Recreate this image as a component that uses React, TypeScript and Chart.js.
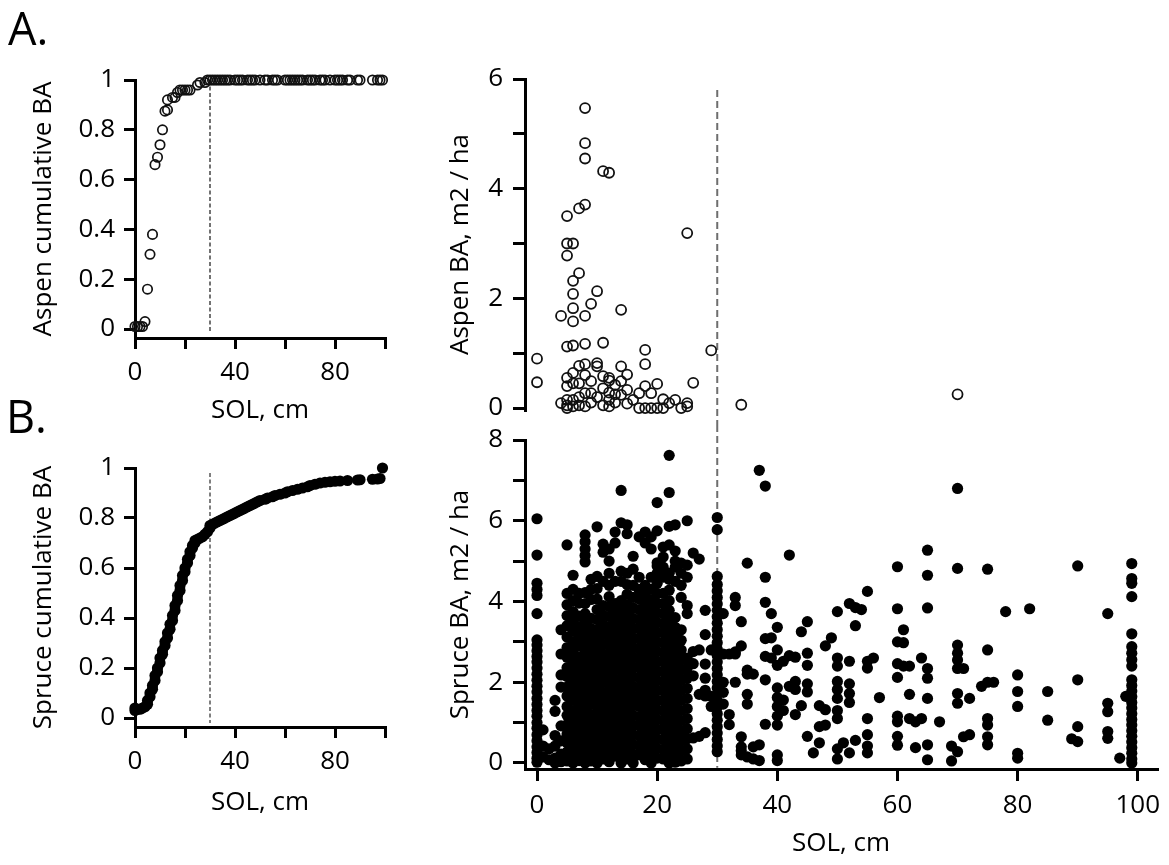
import React, { useEffect, useRef } from 'react';
import { Chart, registerables } from 'chart.js';

Chart.register(...registerables);

const FONT = '"Open Sans", "DejaVu Sans", sans-serif';

// ---------- DATA ----------
const threshold = 30; // SOL, cm (dashed reference line)

const cumTicks = [0, 0.2, 0.4, 0.6, 0.8, 1];
const solTicks = [0, 20, 40, 60, 80, 100];
const solLabelsSmall = [0, 40, 80];
const solLabelsLarge = [0, 20, 40, 60, 80, 100];
const aspenBATicks = [0, 1, 2, 3, 4, 5, 6];
const aspenBALabels = [0, 2, 4, 6];
const spruceBATicks = [0, 1, 2, 3, 4, 5, 6, 7, 8];
const spruceBALabels = [0, 2, 4, 6, 8];

// Panel A: aspen cumulative BA vs SOL  [SOL, cumulative]
const aspenCumulative: [number, number][] = [
  [0, 0.01], [1, 0.01], [2, 0.01], [3, 0.01], [4, 0.03], [5, 0.16], [6, 0.3], [7, 0.38],
  [8, 0.66], [9, 0.69], [10, 0.74], [11, 0.8], [12, 0.875], [13, 0.88], [13, 0.92],
  [15, 0.93], [16, 0.93], [17, 0.95], [18, 0.96], [19, 0.96], [20, 0.96], [21, 0.96],
  [22, 0.96], [25, 0.98], [26, 0.99], [28, 0.99],
  [29, 1], [30, 1], [31, 1], [32, 1], [33, 1], [34, 1], [35, 1], [36, 1], [37, 1], [38, 1],
  [40, 1], [41, 1], [42, 1], [43, 1], [45, 1], [46, 1], [47, 1], [48, 1], [50, 1], [52, 1],
  [53, 1], [55, 1], [56, 1], [57, 1], [60, 1], [61, 1], [62, 1], [63, 1], [64, 1], [65, 1],
  [66, 1], [67, 1], [69, 1], [70, 1], [71, 1], [72, 1], [74, 1], [75, 1], [76, 1], [78, 1],
  [80, 1], [81, 1], [82, 1], [83, 1], [85, 1], [86, 1], [89, 1], [90, 1], [95, 1], [97, 1],
  [98, 1], [99, 1],
];

// Panel B: spruce cumulative BA vs SOL  [SOL, cumulative]
const spruceCumulative: [number, number][] = [
  [0, 0.03], [0, 0.04], [1, 0.035], [2, 0.035], [3, 0.04], [4, 0.045], [5, 0.055], [5, 0.07],
  [6, 0.085], [6, 0.1], [7, 0.115], [7, 0.13], [8, 0.15], [8, 0.17], [9, 0.185], [9, 0.2],
  [10, 0.22], [10, 0.24], [11, 0.255], [11, 0.27], [12, 0.29], [12, 0.305], [13, 0.32],
  [13, 0.34], [14, 0.355], [14, 0.375], [15, 0.39], [15, 0.41], [16, 0.43], [16, 0.45],
  [17, 0.47], [17, 0.49], [18, 0.51], [18, 0.53], [19, 0.55], [19, 0.57], [20, 0.585],
  [20, 0.6], [21, 0.62], [21, 0.635], [22, 0.65], [22, 0.665], [23, 0.68], [23, 0.69],
  [24, 0.7], [24, 0.71], [25, 0.715], [26, 0.72], [27, 0.725], [28, 0.735], [29, 0.745],
  [30, 0.76], [30, 0.77], [31, 0.775], [32, 0.78], [33, 0.785], [34, 0.79], [35, 0.795],
  [36, 0.8], [37, 0.805], [38, 0.81], [39, 0.815], [40, 0.82], [41, 0.825], [42, 0.83],
  [43, 0.835], [44, 0.84], [45, 0.845], [46, 0.85], [47, 0.855], [48, 0.86], [49, 0.865],
  [50, 0.87], [52, 0.875], [53, 0.88], [55, 0.885], [56, 0.89], [58, 0.895], [60, 0.9],
  [61, 0.905], [63, 0.91], [65, 0.915], [67, 0.92], [69, 0.925], [70, 0.93], [72, 0.935],
  [74, 0.94], [76, 0.943], [78, 0.945], [80, 0.947], [82, 0.948], [85, 0.95], [89, 0.952],
  [90, 0.953], [95, 0.955], [97, 0.956], [98, 0.958], [99, 1.0],
];

// Right top: aspen BA per plot, grouped by SOL  [SOL, BA values]
const aspenBA: [number, number[]][] = [
  [0, [0.9, 0.47]],
  [4, [1.68, 0.09]],
  [5, [3.5, 3.0, 2.78, 1.12, 0.55, 0.4, 0.15, 0.05, 0.0]],
  [6, [3.0, 2.32, 2.08, 1.82, 1.58, 1.14, 0.64, 0.45, 0.15, 0.03]],
  [7, [3.64, 2.46, 0.77, 0.45, 0.2, 0.05]],
  [8, [5.47, 4.83, 4.55, 3.71, 1.68, 1.17, 0.8, 0.6, 0.27, 0.03]],
  [9, [1.9, 0.49, 0.27, 0.1]],
  [10, [2.13, 0.82, 0.76, 0.2]],
  [11, [4.32, 1.19, 0.58, 0.36, 0.05]],
  [12, [4.29, 0.55, 0.5, 0.28, 0.15, 0.03]],
  [13, [0.42, 0.25, 0.1]],
  [14, [1.79, 0.76, 0.49, 0.24]],
  [15, [0.61, 0.33, 0.08]],
  [16, [0.15]],
  [17, [0.27, 0.0]],
  [18, [1.06, 0.8, 0.4, 0.0]],
  [19, [0.27, 0.0]],
  [20, [0.44, 0.0]],
  [21, [0.16, 0.0]],
  [22, [0.09]],
  [23, [0.15]],
  [24, [0.0]],
  [25, [3.19, 0.09, 0.03]],
  [26, [0.46]],
  [29, [1.05]],
  [34, [0.06]],
  [70, [0.25]],
];

// Right bottom: spruce BA per plot, grouped by SOL  [SOL, BA values]
const spruceBA: [number, number[]][] = [
  [0, [6.05, 5.15, 4.45, 4.3, 4.15, 3.7, 3.05, 2.92, 2.78, 2.64, 2.5, 2.35, 2.2, 2.05, 1.9, 1.76, 1.6, 1.45, 1.3, 1.16, 1.0, 0.86, 0.7, 0.55, 0.4, 0.26, 0.12, 0.02]],
  [1, [0.82, 0.42, 0.15]],
  [2, [0.35, 0.08]],
  [3, [1.55, 1.28, 0.68, 0.42, 0.12, 0.0]],
  [4, [3.3, 2.7, 2.18, 1.88, 0.92, 0.55, 0.22, 0.03]],
  [5, [5.4, 4.2, 3.92, 3.65, 3.4, 3.12, 2.86, 2.62, 2.36, 2.14, 1.88, 1.66, 1.4, 1.18, 0.95, 0.72, 0.5, 0.27, 0.05]],
  [6, [4.65, 4.3, 4.02, 3.75, 3.52, 3.26, 3.0, 2.75, 2.5, 2.27, 2.02, 1.78, 1.55, 1.3, 1.06, 0.84, 0.6, 0.38, 0.15, 0.0]],
  [7, [4.2, 3.96, 3.64, 3.38, 3.14, 2.9, 2.63, 2.4, 2.15, 1.92, 1.68, 1.45, 1.22, 0.98, 0.74, 0.5, 0.28, 0.06]],
  [8, [5.65, 5.48, 5.3, 5.14, 4.98, 4.22, 3.95, 3.7, 3.46, 3.22, 2.98, 2.75, 2.52, 2.28, 2.04, 1.8, 1.57, 1.33, 1.1, 0.86, 0.62, 0.4, 0.17, 0.0]],
  [9, [4.55, 4.3, 4.05, 3.58, 3.33, 3.1, 2.86, 2.62, 2.4, 2.16, 1.92, 1.69, 1.45, 1.2, 0.97, 0.74, 0.5, 0.27, 0.05]],
  [10, [5.85, 4.62, 4.32, 4.06, 3.8, 3.55, 3.3, 3.06, 2.82, 2.58, 2.35, 2.1, 1.86, 1.62, 1.4, 1.16, 0.92, 0.68, 0.45, 0.22, 0.0]],
  [11, [5.42, 5.22, 4.5, 3.9, 3.66, 3.42, 3.18, 2.94, 2.7, 2.47, 2.23, 2.0, 1.75, 1.52, 1.28, 1.04, 0.8, 0.57, 0.33, 0.1]],
  [12, [5.3, 5.0, 4.7, 4.4, 4.12, 3.88, 3.63, 3.38, 3.14, 2.9, 2.65, 2.41, 2.17, 1.93, 1.7, 1.46, 1.22, 0.98, 0.74, 0.5, 0.26, 0.03]],
  [13, [5.72, 5.45, 4.5, 3.95, 3.72, 3.48, 3.25, 3.0, 2.77, 2.53, 2.3, 2.06, 1.82, 1.58, 1.35, 1.11, 0.87, 0.64, 0.4, 0.17]],
  [14, [6.75, 5.95, 4.75, 4.5, 4.02, 3.78, 3.54, 3.3, 3.06, 2.82, 2.58, 2.34, 2.1, 1.86, 1.63, 1.4, 1.16, 0.92, 0.68, 0.45, 0.22, 0.0]],
  [15, [5.9, 5.68, 4.7, 4.42, 4.18, 3.92, 3.68, 3.44, 3.2, 2.95, 2.72, 2.47, 2.24, 2.0, 1.76, 1.52, 1.28, 1.05, 0.8, 0.57, 0.33, 0.1]],
  [16, [5.12, 4.8, 4.4, 4.1, 3.84, 3.58, 3.34, 3.1, 2.86, 2.62, 2.38, 2.14, 1.9, 1.66, 1.42, 1.18, 0.94, 0.7, 0.46, 0.22, 0.0]],
  [17, [5.6, 4.6, 4.3, 4.06, 3.8, 3.56, 3.32, 3.07, 2.83, 2.59, 2.35, 2.11, 1.87, 1.63, 1.4, 1.15, 0.92, 0.68, 0.44, 0.2]],
  [18, [5.72, 5.45, 4.4, 4.16, 3.92, 3.68, 3.44, 3.2, 2.96, 2.72, 2.48, 2.24, 2.0, 1.76, 1.52, 1.28, 1.04, 0.8, 0.56, 0.32, 0.08]],
  [19, [5.6, 5.3, 4.6, 4.3, 4.04, 3.8, 3.56, 3.32, 3.08, 2.84, 2.6, 2.36, 2.12, 1.88, 1.64, 1.4, 1.16, 0.92, 0.68, 0.44, 0.2, 0.0]],
  [20, [6.45, 5.75, 4.96, 4.88, 4.7, 4.45, 4.2, 3.96, 3.72, 3.48, 3.24, 3.0, 2.76, 2.52, 2.28, 2.04, 1.8, 1.56, 1.32, 1.08, 0.84, 0.6, 0.36, 0.12]],
  [21, [5.35, 5.1, 4.85, 4.6, 4.2, 3.94, 3.7, 3.46, 3.22, 2.98, 2.74, 2.5, 2.26, 2.02, 1.78, 1.54, 1.3, 1.06, 0.82, 0.58, 0.34, 0.1]],
  [22, [7.62, 6.7, 5.86, 5.4, 4.7, 4.55, 4.28, 4.02, 3.78, 3.54, 3.3, 3.06, 2.82, 2.58, 2.34, 2.1, 1.86, 1.62, 1.38, 1.14, 0.9, 0.66, 0.42, 0.18, 0.0]],
  [23, [5.9, 5.25, 5.0, 4.85, 4.5, 3.6, 3.36, 3.12, 2.88, 2.64, 2.4, 2.16, 1.92, 1.68, 1.44, 1.2, 0.96, 0.72, 0.48, 0.24, 0.02]],
  [24, [4.95, 4.7, 4.4, 4.1, 3.3, 3.04, 2.8, 2.55, 2.3, 2.05, 1.8, 1.55, 1.3, 1.05, 0.8, 0.55, 0.3, 0.05]],
  [25, [6.0, 4.9, 4.6, 3.9, 3.7, 2.6, 2.35, 2.1, 1.85, 1.6, 1.35, 1.1, 0.85, 0.6, 0.35, 0.1]],
  [26, [5.2, 2.76, 2.46, 2.16, 0.62]],
  [27, [5.05, 2.8, 1.7, 0.66]],
  [28, [3.78, 3.18, 2.45, 2.1, 1.8, 1.66, 0.75]],
  [29, [2.8, 1.65, 1.4]],
  [30, [6.08, 5.78, 4.62, 4.42, 4.26, 4.1, 3.94, 3.78, 3.62, 3.46, 3.3, 3.14, 2.98, 2.82, 2.66, 2.5, 2.34, 2.18, 2.02, 1.86, 1.7, 1.54, 1.38, 1.22, 1.06, 0.9, 0.74, 0.58, 0.42, 0.28]],
  [31, [3.7, 2.7, 2.0, 1.75, 1.46]],
  [32, [2.7, 1.2, 0.95]],
  [33, [4.1, 3.9, 2.75, 2.7, 2.0]],
  [34, [3.5, 2.9, 0.65, 0.4, 0.3, 0.2]],
  [35, [4.95, 2.3, 2.2, 1.7, 1.46, 0.15]],
  [36, [2.2, 0.4, 0.1]],
  [37, [7.25, 0.45, 0.06]],
  [38, [6.86, 4.6, 3.98, 3.08, 2.64, 2.06, 0.96]],
  [39, [3.7, 3.1, 2.6]],
  [40, [3.36, 2.8, 2.42, 1.86, 1.62, 1.4, 1.16, 0.94, 0.2, 0.06]],
  [41, [2.52, 1.56, 1.3]],
  [42, [5.15, 2.66, 1.9]],
  [43, [2.62, 2.02, 1.82, 1.2]],
  [44, [3.25, 1.42]],
  [45, [3.5, 2.72, 2.42, 1.96, 1.76, 0.66]],
  [46, [0.25]],
  [47, [1.42, 0.9, 0.5]],
  [48, [2.9, 1.32, 0.94]],
  [49, [3.1]],
  [50, [3.75, 2.6, 2.4, 2.02, 1.82, 1.6, 1.3, 1.1, 0.35, 0.1]],
  [51, [0.5]],
  [52, [3.95, 2.52, 1.96, 1.72, 1.5, 0.25]],
  [53, [3.85, 3.4, 0.56]],
  [54, [3.8]],
  [55, [4.25, 2.52, 2.35, 1.1, 0.7, 0.42, 0.25]],
  [56, [2.6]],
  [57, [1.62]],
  [60, [4.86, 3.82, 3.0, 2.46, 2.12, 1.16, 1.02, 0.66, 0.44]],
  [61, [3.3, 2.98, 2.4]],
  [62, [2.4, 1.7, 1.1]],
  [63, [1.02, 0.38]],
  [64, [2.6, 1.1]],
  [65, [5.27, 4.65, 3.84, 2.34, 2.1, 1.6, 0.45, 0.08]],
  [67, [1.02]],
  [69, [0.42, 0.05]],
  [70, [6.8, 4.82, 2.92, 2.72, 2.55, 2.34, 1.72, 1.48, 0.28]],
  [71, [2.34, 0.65]],
  [72, [1.6, 0.7]],
  [74, [1.9]],
  [75, [4.8, 2.8, 2.0, 1.1, 0.94, 0.65, 0.45]],
  [76, [2.0]],
  [78, [3.75]],
  [80, [2.18, 1.77, 1.4, 0.24, 0.12]],
  [82, [3.82]],
  [85, [1.77, 1.06]],
  [89, [0.6]],
  [90, [4.88, 2.06, 0.9, 0.53]],
  [95, [3.7, 1.48, 1.27, 0.78, 0.61]],
  [97, [0.12]],
  [98, [1.65]],
  [99, [4.94, 4.57, 4.45, 4.12, 3.2, 2.88, 2.72, 2.56, 2.4, 2.06, 1.92, 1.78, 1.64, 1.5, 1.36, 1.22, 1.08, 0.94, 0.8, 0.66, 0.52, 0.38, 0.24, 0.1, 0.0]],
];

// ---------- helpers ----------
const pairsToPoints = (pairs: [number, number][]) => pairs.map(([x, y]) => ({ x, y }));
const columnsToPoints = (cols: [number, number[]][]) =>
  cols.flatMap(([x, ys]) => ys.map((y) => ({ x, y })));

type RefLine = {
  value: number;
  from: number | 'top';
  to: number | 'bottom';
  color: string;
  width: number;
  dash: number[];
};

const makeRefLinePlugin = (r: RefLine) => ({
  id: 'refLine',
  beforeDatasetsDraw(chart: any) {
    const { ctx, scales } = chart;
    const px = scales.x.getPixelForValue(r.value);
    const y1 = r.from === 'top' ? 0 : scales.y.getPixelForValue(r.from);
    const y2 = r.to === 'bottom' ? chart.height : scales.y.getPixelForValue(r.to);
    ctx.save();
    ctx.strokeStyle = r.color;
    ctx.lineWidth = r.width;
    ctx.setLineDash(r.dash);
    ctx.beginPath();
    ctx.moveTo(px, y1);
    ctx.lineTo(px, y2);
    ctx.stroke();
    ctx.restore();
  },
});

type PanelSpec = {
  left: number; top: number; width: number; height: number;
  padding: { left: number; top: number; right: number; bottom: number };
  yWidth: number; xHeight: number; showX: boolean;
  xMin: number; xMax: number; yMin: number; yMax: number;
  xTicks: number[]; xLabels: number[]; yTicks: number[]; yLabels: number[];
  tickLen: number; xLabelPad: number; yLabelPad: number;
  yTitle: string; yTitlePad: number; xTitle: string; xTitlePadBottom: number;
  points: { x: number; y: number }[];
  filled: boolean; radius: number; borderWidth: number;
  refLine: RefLine;
};

const zeroPad = (s: any) => {
  s.paddingLeft = 0; s.paddingRight = 0; s.paddingTop = 0; s.paddingBottom = 0;
};

function buildConfig(s: PanelSpec): any {
  const font = { family: FONT, size: 26 };
  const gridOpts = {
    drawOnChartArea: false, drawTicks: true, tickLength: s.tickLen,
    tickWidth: 3, tickColor: '#000', lineWidth: 3, color: '#000',
  };
  return {
    type: 'scatter',
    data: {
      datasets: [{
        data: s.points,
        pointRadius: s.radius,
        pointHoverRadius: s.radius,
        pointBorderWidth: s.borderWidth,
        pointBackgroundColor: s.filled ? '#000' : 'rgba(0,0,0,0)',
        pointBorderColor: s.filled ? '#000' : '#111',
        showLine: false,
        clip: false,
      }],
    },
    options: {
      responsive: false,
      maintainAspectRatio: false,
      animation: false,
      devicePixelRatio: 1,
      events: [],
      layout: { padding: s.padding },
      plugins: { legend: { display: false }, tooltip: { enabled: false } },
      scales: {
        x: {
          type: 'linear', display: s.showX, min: s.xMin, max: s.xMax,
          afterBuildTicks: (sc: any) => { sc.ticks = s.xTicks.map((v) => ({ value: v })); },
          afterFit: (sc: any) => { sc.height = s.xHeight; zeroPad(sc); },
          border: { display: true, color: '#000', width: 3 },
          grid: gridOpts,
          ticks: {
            color: '#000', font, padding: s.xLabelPad, maxRotation: 0, autoSkip: false,
            callback: (v: number) => (s.xLabels.includes(v) ? String(v) : ''),
          },
          title: {
            display: true, text: s.xTitle, color: '#000', font,
            padding: { top: 0, bottom: s.xTitlePadBottom },
          },
        },
        y: {
          type: 'linear', min: s.yMin, max: s.yMax,
          afterBuildTicks: (sc: any) => { sc.ticks = s.yTicks.map((v) => ({ value: v })); },
          afterFit: (sc: any) => { sc.width = s.yWidth; zeroPad(sc); },
          border: { display: true, color: '#000', width: 3 },
          grid: gridOpts,
          ticks: {
            color: '#000', font, padding: s.yLabelPad, autoSkip: false,
            callback: (v: number) => (s.yLabels.includes(v) ? String(v) : ''),
          },
          title: {
            display: true, text: s.yTitle, color: '#000', font,
            padding: { top: s.yTitlePad, bottom: 0 },
          },
        },
      },
    },
    plugins: [makeRefLinePlugin(s.refLine)],
  };
}

function ChartPanel({ spec }: { spec: PanelSpec }) {
  const ref = useRef<HTMLCanvasElement>(null);
  useEffect(() => {
    if (!ref.current) return;
    const chart = new Chart(ref.current, buildConfig(spec));
    return () => chart.destroy();
  }, [spec]);
  return (
    <canvas
      ref={ref}
      width={spec.width}
      height={spec.height}
      style={{ position: 'absolute', left: spec.left, top: spec.top, width: spec.width, height: spec.height }}
    />
  );
}

const panelA: PanelSpec = {
  left: 0, top: 0, width: 420, height: 440,
  padding: { left: 0, top: 80, right: 35, bottom: 0 },
  yWidth: 135, xHeight: 102, showX: true,
  xMin: 0, xMax: 100, yMin: -0.036, yMax: 1,
  xTicks: solTicks, xLabels: solLabelsSmall, yTicks: cumTicks, yLabels: cumTicks,
  tickLen: 11, xLabelPad: 8, yLabelPad: 9,
  yTitle: 'Aspen cumulative BA', yTitlePad: 28, xTitle: 'SOL, cm', xTitlePadBottom: 14,
  points: pairsToPoints(aspenCumulative), filled: false, radius: 4.7, borderWidth: 1.7,
  refLine: { value: threshold, from: 1, to: -0.012, color: '#444', width: 1.5, dash: [4, 2.5] },
};

const panelB: PanelSpec = {
  left: 0, top: 390, width: 420, height: 440,
  padding: { left: 0, top: 78, right: 35, bottom: 0 },
  yWidth: 135, xHeight: 103, showX: true,
  xMin: 0, xMax: 100, yMin: -0.036, yMax: 1,
  xTicks: solTicks, xLabels: solLabelsSmall, yTicks: cumTicks, yLabels: cumTicks,
  tickLen: 11, xLabelPad: 8, yLabelPad: 9,
  yTitle: 'Spruce cumulative BA', yTitlePad: 28, xTitle: 'SOL, cm', xTitlePadBottom: 12,
  points: pairsToPoints(spruceCumulative), filled: true, radius: 5.6, borderWidth: 0,
  refLine: { value: threshold, from: 0.98, to: -0.02, color: '#555', width: 1.5, dash: [4, 2.5] },
};

const panelTopRight: PanelSpec = {
  left: 420, top: 0, width: 749, height: 425,
  padding: { left: 0, top: 79, right: 12, bottom: 15 },
  yWidth: 105, xHeight: 0, showX: false,
  xMin: -2, xMax: 103.2, yMin: -0.036, yMax: 6,
  xTicks: solTicks, xLabels: solLabelsLarge, yTicks: aspenBATicks, yLabels: aspenBALabels,
  tickLen: 12, xLabelPad: 9, yLabelPad: 10,
  yTitle: 'Aspen BA, m2 / ha', yTitlePad: 25, xTitle: '', xTitlePadBottom: 0,
  points: columnsToPoints(aspenBA), filled: false, radius: 5, borderWidth: 1.8,
  refLine: { value: threshold, from: 5.8, to: 'bottom', color: '#6e6e6e', width: 2, dash: [7, 4] },
};

const panelBottomRight: PanelSpec = {
  left: 420, top: 425, width: 749, height: 440,
  padding: { left: 0, top: 15, right: 12, bottom: 0 },
  yWidth: 105, xHeight: 96, showX: true,
  xMin: -2, xMax: 103.2, yMin: -0.149, yMax: 8,
  xTicks: solTicks, xLabels: solLabelsLarge, yTicks: spruceBATicks, yLabels: spruceBALabels,
  tickLen: 12, xLabelPad: 9, yLabelPad: 10,
  yTitle: 'Spruce BA, m2 / ha', yTitlePad: 25, xTitle: 'SOL, cm', xTitlePadBottom: 6,
  points: columnsToPoints(spruceBA), filled: true, radius: 5.6, borderWidth: 0,
  refLine: { value: threshold, from: 'top', to: -0.12, color: '#6e6e6e', width: 2, dash: [7, 4] },
};

const letterStyle: React.CSSProperties = {
  position: 'absolute', fontFamily: FONT, fontSize: 45, lineHeight: '45px', color: '#000',
};

export default function App() {
  return (
    <div style={{ position: 'absolute', left: 0, top: 0, width: 1169, height: 865, background: '#fff', overflow: 'hidden' }}>
      <ChartPanel spec={panelA} />
      <ChartPanel spec={panelB} />
      <ChartPanel spec={panelTopRight} />
      <ChartPanel spec={panelBottomRight} />
      <div style={{ ...letterStyle, left: 8, top: 5 }}>A.</div>
      <div style={{ ...letterStyle, left: 6, top: 393 }}>B.</div>
    </div>
  );
}
